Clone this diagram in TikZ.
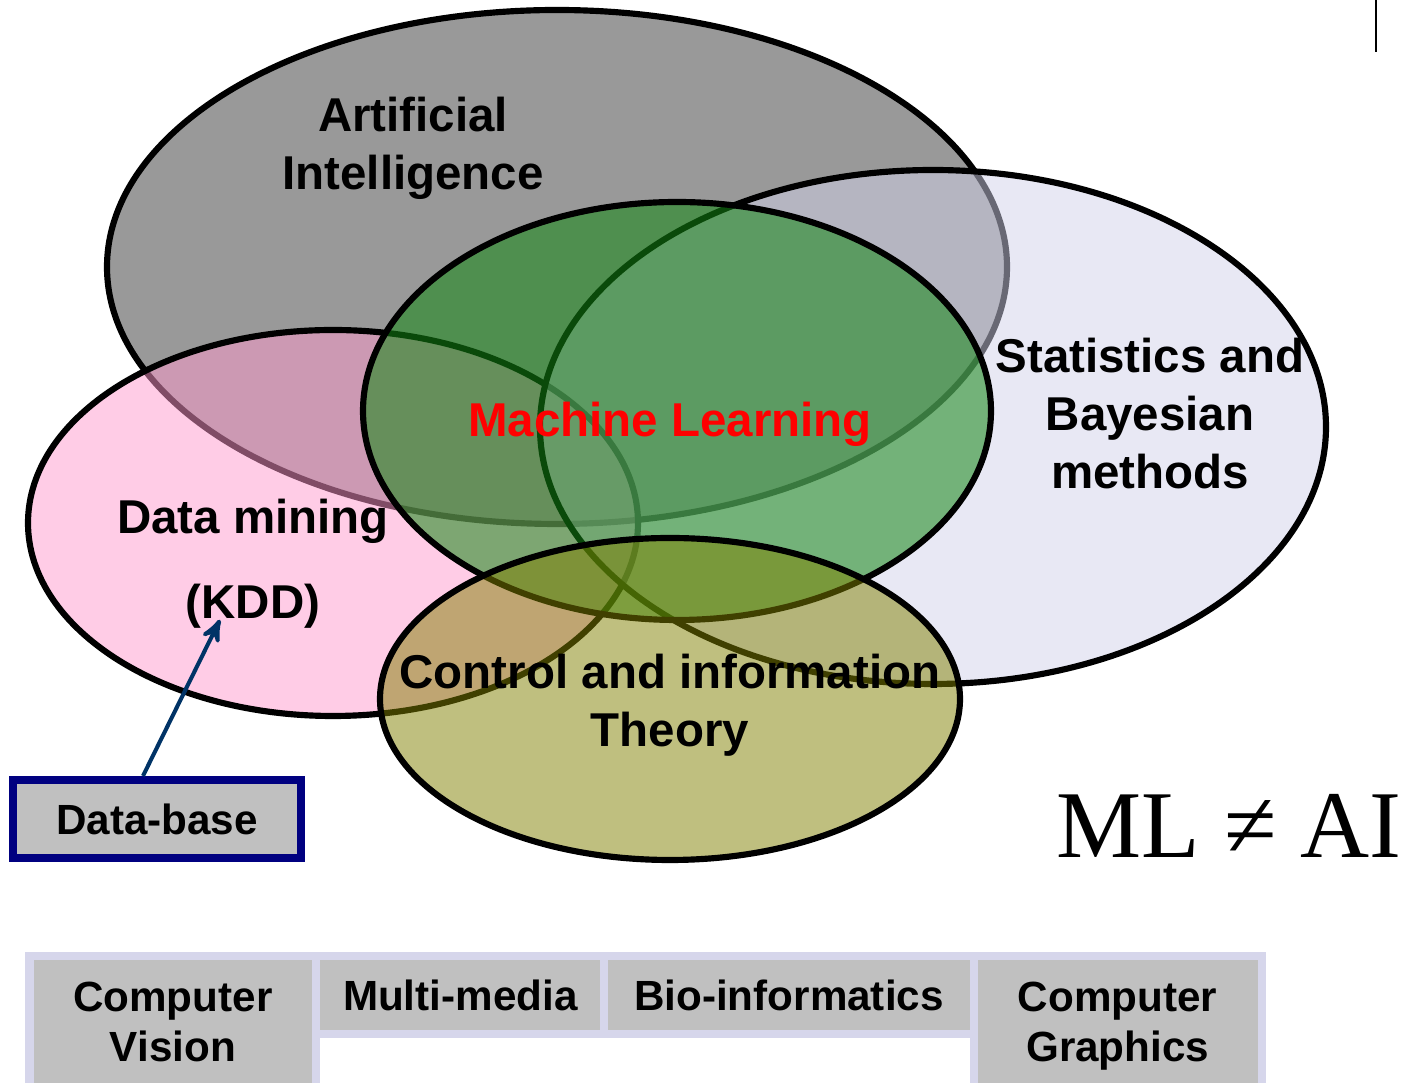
\documentclass[tikz,border=0pt]{standalone}
\usepackage{fontspec}
\setmainfont{Liberation Sans}
\newfontfamily\timesfont{Liberation Serif}
\usepackage{tikz}
\usetikzlibrary{arrows}
\usetikzlibrary{positioning}
\usetikzlibrary{calc}

\definecolor{aigray}{RGB}{153,153,153}
\definecolor{dmpink}{RGB}{255,153,205}
\definecolor{statlav}{RGB}{209,209,233}
\definecolor{mlgreen}{RGB}{20,135,20}
\definecolor{ctolive}{RGB}{128,128,0}
\definecolor{dbnavy}{RGB}{0,0,128}
\definecolor{arrowblue}{RGB}{0,51,102}
\definecolor{fieldgray}{RGB}{192,192,192}
\definecolor{fieldedge}{RGB}{214,214,235}

\tikzset{
  venn/.style={draw=black, line width=1.75pt},
  lbl/.style={font=\fontsize{13.5}{16.5}\selectfont\bfseries, align=center, inner sep=0pt},
  field/.style={draw=fieldedge, fill=fieldgray, line width=2.3pt, outer sep=0pt, inner sep=0pt,
    font=\fontsize{12}{14.2}\selectfont\bfseries, align=center, anchor=north west,
    minimum width=2.88cm, minimum height=0.78cm},
}

\begin{document}
\begin{tikzpicture}[x=0.01cm, y=-0.01cm]
        \useasboundingbox (0,0) rectangle (1408,1083);

        \draw[venn, fill=aigray] (557,267) ellipse [x radius=450, y radius=257];
        \draw[venn, fill=dmpink, fill opacity=0.5] (333,523) ellipse [x radius=305, y radius=193];
        \draw[venn, fill=statlav, fill opacity=0.5] (933,427) ellipse [x radius=393, y radius=257];
        \draw[venn, fill=mlgreen, fill opacity=0.55] (677,411) ellipse [x radius=314, y radius=209];
        \draw[venn, fill=ctolive, fill opacity=0.5] (670,699) ellipse [x radius=290, y radius=161];

        \node[lbl] (ai) at (413,148) {Artificial\\Intelligence};
        \node[lbl, text=red] (ml) at (670,424) {Machine Learning};
        \node[lbl] (stat) at (1150,414) {Statistics and\\Bayesian\\methods};
        \node[lbl] (dm) at (253,521) {Data mining};
        \node[lbl] (kdd) at (253,606) {(KDD)};
        \node[lbl] (ct) at (670,705) {Control and information\\Theory};

        \node[draw=dbnavy, fill=fieldgray, line width=2.3pt, inner sep=0pt, minimum width=2.88cm,
          minimum height=0.78cm, font=\fontsize{12}{14}\selectfont\bfseries] (db) at (157,819) {Data-base};
        \path [-stealth'] ([xshift=-0.14cm]db.north) edge[draw=arrowblue, line width=1.15pt] ($(kdd.south)+(-33,-9)$);

        \node[font=\timesfont\fontsize{27.2}{30}\selectfont, inner sep=0pt] (neq) at (1229,826) {ML ≠ AI};
        \draw[line width=0.6pt] (1376,0) -- (1376,52);

        \node[field, minimum width=2.865cm, minimum height=1.31cm] (cv) at (29.5,956) {Computer\\Vision};
        \node[field] (mm) at (cv.north east) {Multi-media};
        \node[field, minimum width=3.69cm] (bio) at (mm.north east) {Bio-informatics};
        \node[field, minimum height=1.31cm] (cg) at (bio.north east) {Computer\\\raisebox{0pt}[\height][0pt]{Graphics}};
\end{tikzpicture}
\end{document}
